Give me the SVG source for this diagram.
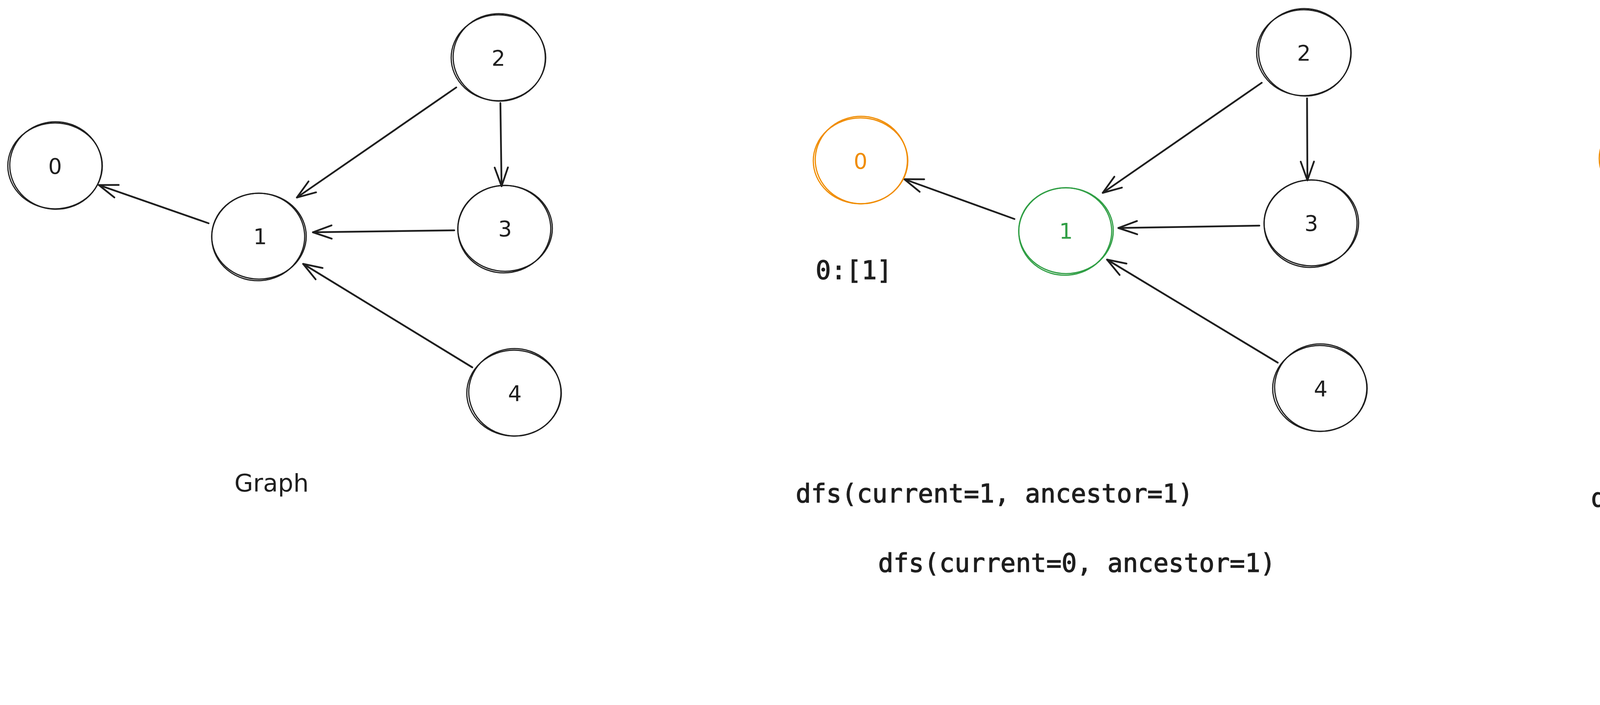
<svg xmlns="http://www.w3.org/2000/svg" width="5782" height="1806" viewBox="0 0 5782 1806">
<style>
.bg{fill:#ffffff}
.c{fill:none;stroke-width:3}
.k{stroke:#1e1e1e}
.o{stroke:#f08c00}
.g{stroke:#2f9e44}
.lbl{font-family:"DejaVu Sans","Liberation Sans",sans-serif;font-size:55px;text-anchor:middle}
.tk{fill:#1e1e1e}
.to{fill:#f08c00}
.tg{fill:#2f9e44}
.code{font-family:"DejaVu Sans Mono","Liberation Mono",monospace;font-size:65px;fill:#1e1e1e;stroke:#1e1e1e;stroke-width:1.5}
.title{font-family:"DejaVu Sans","Liberation Sans",sans-serif;font-size:62px;fill:#1e1e1e}
.edge{fill:none;stroke:#1e1e1e;stroke-width:4.5;stroke-linecap:round;marker-end:url(#ah)}
</style>
<defs>
<marker id="ah" markerUnits="userSpaceOnUse" markerWidth="120" markerHeight="120" refX="0" refY="0" viewBox="-60 -60 120 120" orient="auto" overflow="visible">
<path d="M -48 -17 L 0 0 L -48 17" fill="none" stroke="#1e1e1e" stroke-width="4.5" stroke-linecap="round" stroke-linejoin="round"/>
</marker>
</defs>
<rect class="bg" x="0" y="0" width="5782" height="1806"/>

<g id="connectors">
<line class="edge" x1="534" y1="572" x2="253" y2="474"/>
<line class="edge" x1="1168" y1="224" x2="760" y2="506"/>
<line class="edge" x1="1281" y1="264" x2="1284" y2="477"/>
<line class="edge" x1="1163" y1="590" x2="801" y2="595"/>
<line class="edge" x1="1209" y1="941" x2="776" y2="676"/>
<line class="edge" x1="2597" y1="561" x2="2315" y2="459"/>
<line class="edge" x1="3230" y1="212" x2="2823" y2="494"/>
<line class="edge" x1="3346" y1="252" x2="3347" y2="462"/>
<line class="edge" x1="3224" y1="578" x2="2863" y2="584"/>
<line class="edge" x1="3271" y1="929" x2="2834" y2="665"/>
<line class="edge" x1="4608" y1="555" x2="4326" y2="453"/>
<line class="edge" x1="5243" y1="207" x2="4834" y2="487"/>
<line class="edge" x1="5355" y1="245" x2="5358" y2="459"/>
<line class="edge" x1="5237" y1="570" x2="4873" y2="578"/>
<line class="edge" x1="5282" y1="922" x2="4847" y2="660"/>
</g>

<g id="p1-n0"><ellipse class="c k" cx="141" cy="425" rx="121" ry="110"/><ellipse class="c k" cx="143" cy="424" rx="118" ry="112" transform="rotate(4 143 424)"/><text class="lbl tk" x="141" y="445">0</text></g>
<g id="p1-n1"><ellipse class="c k" cx="663" cy="605" rx="121" ry="110"/><ellipse class="c k" cx="661" cy="607" rx="119" ry="112" transform="rotate(-4 661 607)"/><text class="lbl tk" x="666" y="625">1</text></g>
<g id="p1-n2"><ellipse class="c k" cx="1276" cy="148" rx="121" ry="110"/><ellipse class="c k" cx="1278" cy="147" rx="118" ry="112" transform="rotate(5 1278 147)"/><text class="lbl tk" x="1276" y="168">2</text></g>
<g id="p1-n3"><ellipse class="c k" cx="1293" cy="585" rx="121" ry="110"/><ellipse class="c k" cx="1291" cy="587" rx="119" ry="112" transform="rotate(-5 1291 587)"/><text class="lbl tk" x="1293" y="605">3</text></g>
<g id="p1-n4"><ellipse class="c k" cx="1316" cy="1007" rx="121" ry="110"/><ellipse class="c k" cx="1318" cy="1005" rx="118" ry="112" transform="rotate(4 1318 1005)"/><text class="lbl tk" x="1318" y="1027">4</text></g>
<g id="p1-title"><text class="title" x="600" y="1259">Graph</text></g>

<g id="p2-n0"><ellipse class="c o" cx="2203" cy="412" rx="121" ry="110"/><ellipse class="c o" cx="2205" cy="410" rx="118" ry="112" transform="rotate(4 2205 410)"/><text class="lbl to" x="2203" y="432">0</text></g>
<g id="p2-n1"><ellipse class="c g" cx="2729" cy="591" rx="121" ry="110"/><ellipse class="c g" cx="2727" cy="593" rx="119" ry="112" transform="rotate(-4 2727 593)"/><text class="lbl tg" x="2729" y="611">1</text></g>
<g id="p2-n2"><ellipse class="c k" cx="3338" cy="135" rx="121" ry="110"/><ellipse class="c k" cx="3340" cy="134" rx="118" ry="112" transform="rotate(5 3340 134)"/><text class="lbl tk" x="3338" y="155">2</text></g>
<g id="p2-n3"><ellipse class="c k" cx="3357" cy="571" rx="121" ry="110"/><ellipse class="c k" cx="3355" cy="573" rx="119" ry="112" transform="rotate(-5 3355 573)"/><text class="lbl tk" x="3357" y="591">3</text></g>
<g id="p2-n4"><ellipse class="c k" cx="3379" cy="995" rx="121" ry="110"/><ellipse class="c k" cx="3381" cy="993" rx="118" ry="112" transform="rotate(4 3381 993)"/><text class="lbl tk" x="3381" y="1015">4</text></g>
<g id="p2-texts">
<text class="code" x="2088" y="715">0:[1]</text>
<text class="code" x="2037" y="1287">dfs(current=1, ancestor=1)</text>
<text class="code" x="2248" y="1465">dfs(current=0, ancestor=1)</text>
</g>

<g id="p3-n0"><ellipse class="c o" cx="4215" cy="406" rx="121" ry="110"/><ellipse class="c o" cx="4217" cy="404" rx="118" ry="112" transform="rotate(4 4217 404)"/><text class="lbl to" x="4215" y="426">0</text></g>
<g id="p3-n1"><ellipse class="c o" cx="4740" cy="585" rx="121" ry="110"/><ellipse class="c o" cx="4738" cy="587" rx="119" ry="112" transform="rotate(-4 4738 587)"/><text class="lbl to" x="4740" y="605">1</text></g>
<g id="p3-n2"><ellipse class="c g" cx="5350" cy="129" rx="121" ry="110"/><ellipse class="c g" cx="5352" cy="128" rx="118" ry="112" transform="rotate(5 5352 128)"/><text class="lbl tg" x="5350" y="149">2</text></g>
<g id="p3-n3"><ellipse class="c o" cx="5367" cy="567" rx="121" ry="110"/><ellipse class="c o" cx="5365" cy="569" rx="119" ry="112" transform="rotate(-5 5365 569)"/><text class="lbl to" x="5367" y="587">3</text></g>
<g id="p3-n4"><ellipse class="c k" cx="5390" cy="988" rx="121" ry="110"/><ellipse class="c k" cx="5392" cy="986" rx="118" ry="112" transform="rotate(4 5392 986)"/><text class="lbl tk" x="5392" y="1008">4</text></g>
<g id="p3-texts">
<text class="code" x="4105" y="662">0:[1,2]</text>
<text class="code" x="4641" y="830">1:[2]</text>
<text class="code" x="5568" y="590">3:[2]</text>
<text class="code" x="4073" y="1298">dfs(current=2, ancestor=2)</text>
<text class="code" x="4283" y="1456">dfs(current=3, ancestor=2)</text>
<text class="code" x="4281" y="1591">dfs(current=1, ancestor=2)</text>
<text class="code" x="4458" y="1756">dfs(current=0, ancestor=2)</text>
</g>
</svg>
